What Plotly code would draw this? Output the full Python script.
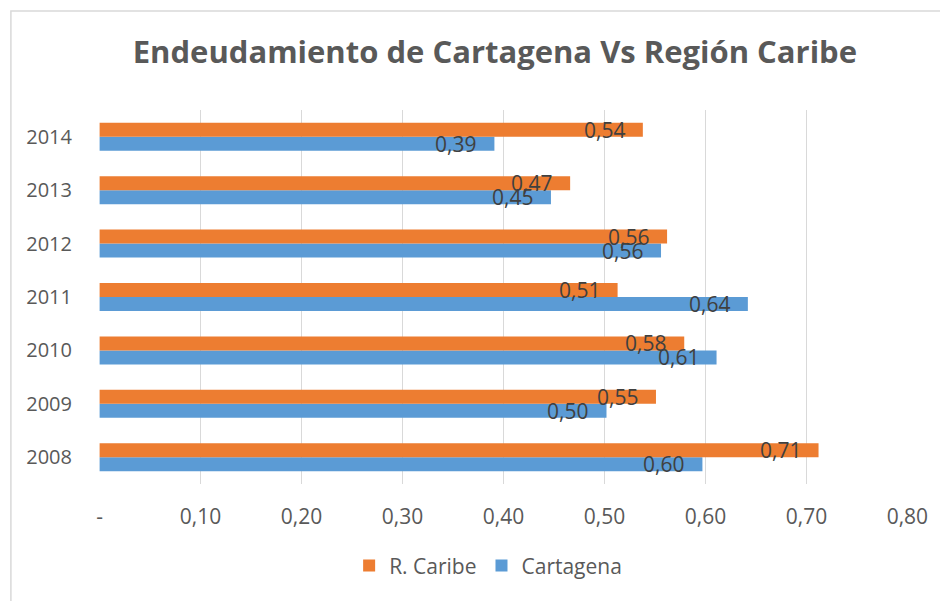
import plotly.graph_objects as go

years = ["2008", "2009", "2010", "2011", "2012", "2013", "2014"]
r_caribe = [0.712, 0.551, 0.579, 0.513, 0.562, 0.466, 0.538]
cartagena = [0.597, 0.502, 0.611, 0.642, 0.556, 0.447, 0.391]
x_ticks = [0, 0.1, 0.2, 0.3, 0.4, 0.5, 0.6, 0.7, 0.8]
x_ticktext = ["-", "0,10", "0,20", "0,30", "0,40", "0,50", "0,60", "0,70", "0,80"]

ORANGE = "#ED7D31"
BLUE = "#5B9BD5"
FONT = "Open Sans"

def fmt(v):
    return f"{v:.2f}".replace(".", ",")

fig = go.Figure()
fig.add_trace(go.Bar(y=years, x=cartagena, orientation="h", name="Cartagena",
                     marker=dict(color=BLUE, line=dict(width=0)), legendrank=2))
fig.add_trace(go.Bar(y=years, x=r_caribe, orientation="h", name="R. Caribe",
                     marker=dict(color=ORANGE, line=dict(width=0)), legendrank=1))

annotations = []
for i, v in enumerate(r_caribe):
    annotations.append(dict(x=v, y=i, xref="x", yref="y", text=fmt(v), showarrow=False,
                            xanchor="right", yanchor="middle", xshift=-16, yshift=7,
                            font=dict(family=FONT, size=21, color="#404040")))
for i, v in enumerate(cartagena):
    annotations.append(dict(x=v, y=i, xref="x", yref="y", text=fmt(v), showarrow=False,
                            xanchor="right", yanchor="middle", xshift=-16, yshift=-7,
                            font=dict(family=FONT, size=21, color="#404040")))

fig.update_layout(
    width=940, height=593,
    margin=dict(l=91, r=40, t=102, b=117),
    paper_bgcolor="white", plot_bgcolor="white",
    barmode="group", bargap=0.476, bargroupgap=0,
    title=dict(text="<b>Endeudamiento de Cartagena Vs Región Caribe</b>",
               x=0.518, xanchor="center", y=0.926, yanchor="middle",
               font=dict(family=FONT, size=31, color="#595959")),
    xaxis=dict(range=[-0.0006, 0.8006], tickvals=x_ticks, ticktext=x_ticktext,
               showgrid=True, gridcolor="#d9d9d9", gridwidth=1.3, zeroline=False,
               showline=False, ticks="", ticklabelstandoff=18, automargin=False,
               tickfont=dict(family=FONT, size=21, color="#595959")),
    yaxis=dict(type="category", range=[-0.5, len(years) - 0.5],
               showgrid=False, zeroline=False, showline=False, ticks="",
               ticklabelstandoff=26, automargin=False,
               tickfont=dict(family=FONT, size=20, color="#595959")),
    legend=dict(orientation="h", x=0.481, xanchor="center", y=-0.219, yanchor="middle",
                font=dict(family=FONT, size=21, color="#595959"), itemwidth=30),
    showlegend=True,
    annotations=annotations,
    shapes=[dict(type="rect", xref="paper", yref="paper", x0=-0.1089, x1=1.5,
                 y0=-1.0, y1=1.2647, line=dict(color="#d9d9d9", width=1.5), layer="below")],
)

fig.write_html("out.html")
